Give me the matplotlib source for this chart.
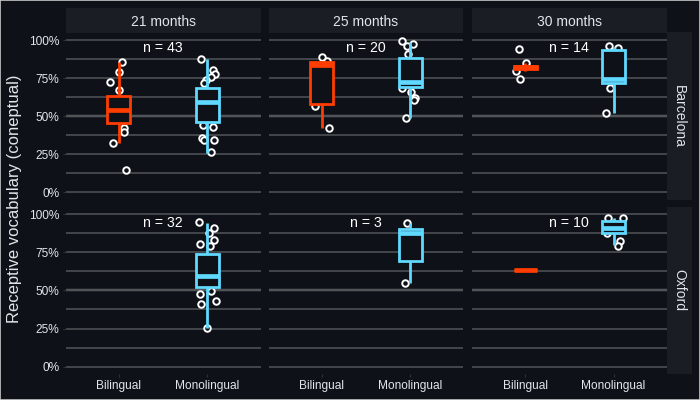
import matplotlib
matplotlib.use("Agg")
import matplotlib.pyplot as plt
from matplotlib.patches import Rectangle

plt.rcParams['font.family'] = ['Liberation Sans', 'DejaVu Sans']

# ---------------- data ----------------
ages = ["21 months", "25 months", "30 months"]
sites = ["Barcelona", "Oxford"]
groups = ["Bilingual", "Monolingual"]
n_labels = [["n = 43", "n = 20", "n = 14"],
            ["n = 32", "n = 3", "n = 10"]]
y_ticks = [0, 0.25, 0.5, 0.75, 1.0]
y_tick_labels = ["0%", "25%", "50%", "75%", "100%"]

# box stats: (q1, median, q3, lower whisker, upper whisker); None = no data
box_bcn_21_bil = (0.455, 0.540, 0.630, 0.326, 0.858)
box_bcn_21_mono = (0.464, 0.595, 0.687, 0.260, 0.873)
box_bcn_25_bil = (0.578, 0.835, 0.855, 0.424, 0.855)
box_bcn_25_mono = (0.689, 0.722, 0.880, 0.486, 0.989)
box_bcn_30_bil = (0.808, 0.820, 0.832, 0.796, 0.847)
box_bcn_30_mono = (0.716, 0.745, 0.934, 0.519, 0.956)
box_oxf_21_bil = None
box_oxf_21_mono = (0.521, 0.593, 0.737, 0.256, 0.945)
box_oxf_25_bil = None
box_oxf_25_mono = (0.694, 0.879, 0.901, 0.551, 0.945)
box_oxf_30_bil = (0.633, 0.635, 0.637, 0.630, 0.640)
box_oxf_30_mono = (0.875, 0.908, 0.958, 0.798, 0.974)

# individual scores (visible points)
pts_bcn_21_bil = [0.858, 0.790, 0.722, 0.672, 0.422, 0.394, 0.326, 0.146]
pts_bcn_21_mono = [0.877, 0.803, 0.775, 0.755, 0.737, 0.716, 0.442, 0.427, 0.355, 0.343, 0.343, 0.263]
pts_bcn_25_bil = [0.890, 0.862, 0.567, 0.422]
pts_bcn_25_mono = [0.995, 0.960, 0.974, 0.906, 0.687, 0.661, 0.621, 0.605, 0.486]
pts_bcn_30_bil = [0.939, 0.847, 0.796, 0.744]
pts_bcn_30_mono = [0.963, 0.949, 0.683, 0.519]
pts_oxf_21_bil = []
pts_oxf_21_mono = [0.947, 0.912, 0.875, 0.831, 0.807, 0.794, 0.431, 0.411, 0.477, 0.499, 0.252]
pts_oxf_25_bil = []
pts_oxf_25_mono = [0.945, 0.880, 0.547]
pts_oxf_30_bil = []
pts_oxf_30_mono = [0.974, 0.974, 0.875, 0.825, 0.794]

# horizontal jitter (category units)
jit_bcn_21_bil = [0.033, 0.006, -0.10, 0.006, 0.059, 0.059, -0.069, 0.078]
jit_bcn_21_mono = [-0.075, 0.06, 0.087, 0.038, -0.015, -0.037, -0.045, 0.06, -0.062, -0.037, 0.076, 0.038]
jit_bcn_25_bil = [0.007, 0.056, -0.076, 0.082]
jit_bcn_25_mono = [-0.096, -0.04, 0.035, -0.028, -0.096, 0.006, 0.058, 0.043, -0.051]
jit_bcn_30_bil = [-0.068, 0.008, -0.102, -0.056]
jit_bcn_30_mono = [-0.051, 0.054, -0.04, -0.085]
jit_oxf_21_bil = []
jit_oxf_21_mono = [-0.09, 0.08, 0.023, 0.08, -0.083, 0.03, 0.098, -0.071, -0.083, 0.038, -0.007]
jit_oxf_25_bil = []
jit_oxf_25_mono = [-0.04, 0.0, -0.059]
jit_oxf_30_bil = []
jit_oxf_30_mono = [-0.058, 0.104, -0.077, 0.074, 0.054]

boxes = [[(box_bcn_21_bil, box_bcn_21_mono), (box_bcn_25_bil, box_bcn_25_mono), (box_bcn_30_bil, box_bcn_30_mono)],
         [(box_oxf_21_bil, box_oxf_21_mono), (box_oxf_25_bil, box_oxf_25_mono), (box_oxf_30_bil, box_oxf_30_mono)]]
points = [[(pts_bcn_21_bil, pts_bcn_21_mono), (pts_bcn_25_bil, pts_bcn_25_mono), (pts_bcn_30_bil, pts_bcn_30_mono)],
          [(pts_oxf_21_bil, pts_oxf_21_mono), (pts_oxf_25_bil, pts_oxf_25_mono), (pts_oxf_30_bil, pts_oxf_30_mono)]]
jitters = [[(jit_bcn_21_bil, jit_bcn_21_mono), (jit_bcn_25_bil, jit_bcn_25_mono), (jit_bcn_30_bil, jit_bcn_30_mono)],
           [(jit_oxf_21_bil, jit_oxf_21_mono), (jit_oxf_25_bil, jit_oxf_25_mono), (jit_oxf_30_bil, jit_oxf_30_mono)]]

# ---------------- style ----------------
BG = "#0e1117"
STRIP = "#1a1d24"
TXT = "#e2e6ea"
GRID = "#474a4f"
MID = "#b8b8b8"
COLORS = ["#ff3d00", "#5fd9ff"]

W, H = 700, 400
fig = plt.figure(figsize=(7, 4), dpi=100, facecolor=BG)

col_x = [65.7, 268.6, 471.9]
pw = 194.8
row_y = [32.4, 206.7]
ph = 167.5

def fr(x, y, w, h):
    return [x / W, 1 - (y + h) / H, w / W, h / H]

for r in range(2):
    for c in range(3):
        ax = fig.add_axes(fr(col_x[c], row_y[r], pw, ph))
        ax.set_facecolor(BG)
        for s in ax.spines.values():
            s.set_visible(False)
        ax.set_xlim(0.4, 2.6)
        ax.set_ylim(-0.05, 1.05)
        ax.set_yticks(y_ticks)
        ax.set_yticks([0.125, 0.375, 0.625, 0.875], minor=True)
        ax.grid(True, axis="y", which="both", color=GRID, lw=1.3, zorder=0)
        ax.axhline(0.5, color=MID, lw=1.6, zorder=1)
        ax.set_xticks([1, 2])
        ax.tick_params(axis="both", which="both", length=2.5, color="#333333",
                       labelcolor=TXT, labelsize=8.6, pad=2)
        ax.tick_params(axis="y", which="minor", length=0)
        if r == 1:
            ax.set_xticklabels(groups)
            ax.tick_params(axis="x", length=2, pad=2.5)
        else:
            ax.set_xticklabels([])
            ax.tick_params(axis="x", length=0)
        if c == 0:
            ax.set_yticklabels(y_tick_labels)
        else:
            ax.set_yticklabels([])
            ax.tick_params(axis="y", length=0)

        for g in range(2):
            pts = points[r][c][g]
            jit = jitters[r][c][g]
            if pts:
                ax.scatter([g + 1 + j for j in jit], pts, s=22, facecolor=BG,
                           edgecolor="white", linewidths=1.4, zorder=2)
            st = boxes[r][c][g]
            if st is None:
                continue
            q1, med, q3, lo, hi = st
            stats = [dict(q1=q1, med=med, q3=q3, whislo=lo, whishi=hi, fliers=[])]
            col = COLORS[g]
            ax.bxp(stats, positions=[g + 1], widths=0.26, showcaps=False,
                   showfliers=False, patch_artist=True, manage_ticks=False,
                   boxprops=dict(facecolor=BG, edgecolor=col, linewidth=2.0),
                   whiskerprops=dict(color=col, linewidth=2.0, solid_capstyle="butt"),
                   medianprops=dict(color=col, linewidth=3.4, solid_capstyle="butt"),
                   zorder=3)
        ax.text(1.5, 0.945, n_labels[r][c], ha="center", va="center",
                color="white", fontsize=10.2, zorder=4)

# strips
for c in range(3):
    sax = fig.add_axes(fr(col_x[c], 8, pw, 25))
    sax.set_facecolor(STRIP)
    sax.set_xticks([]); sax.set_yticks([])
    for s in sax.spines.values():
        s.set_visible(False)
    sax.text(0.5, 0.45, ages[c], ha="center", va="center", color=TXT,
             fontsize=10, transform=sax.transAxes)
for r in range(2):
    sax = fig.add_axes(fr(666.7, row_y[r], 25, ph))
    sax.set_facecolor(STRIP)
    sax.set_xticks([]); sax.set_yticks([])
    for s in sax.spines.values():
        s.set_visible(False)
    sax.text(0.5, 0.5, sites[r], ha="center", va="center", color=TXT,
             fontsize=10, rotation=270, transform=sax.transAxes)

fig.text(15 / W, 1 - 199 / H, "Receptive vocabulary (coneptual)", rotation=90,
         ha="center", va="center", color=TXT, fontsize=12)

fig.patches.append(Rectangle((0.0007, 0.0012), 0.9986, 0.9976, transform=fig.transFigure,
                             fill=False, edgecolor="#c8c8c8", lw=1.2, zorder=10))

fig.savefig("out.png", dpi=100, facecolor=BG)
